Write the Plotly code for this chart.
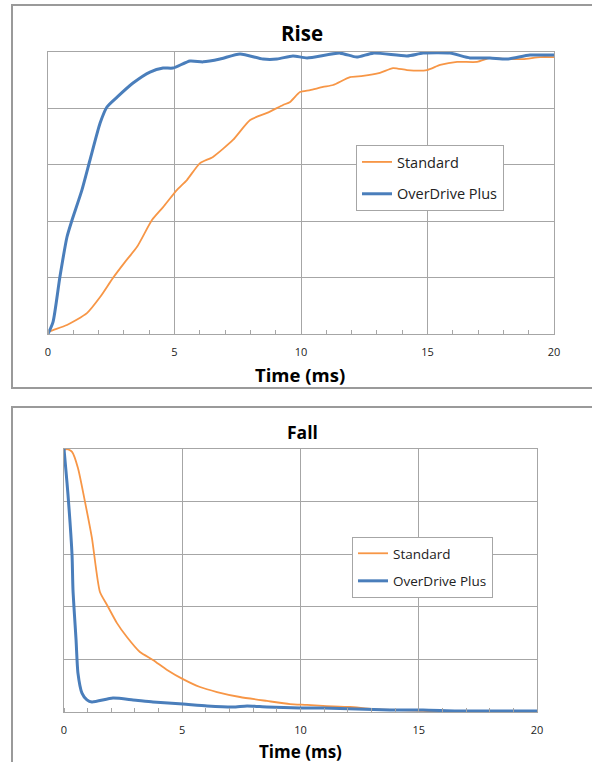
import plotly.graph_objects as go

# ---------------- data ----------------
series_names = ["Standard", "OverDrive Plus"]

rise_std_t = [0, 0.2, 0.75, 1.54, 2.06, 2.57, 3.04, 3.52, 4.11, 4.55, 5.1, 5.49, 6.01, 6.52, 7.31,
              7.99, 8.66, 9.29, 9.57, 9.96, 10.36, 10.87, 11.27, 11.94, 12.45, 13.12, 13.64, 14.19,
              14.98, 15.5, 16.17, 16.96, 17.47, 18.14, 18.77, 19.45, 20.0]
rise_std_v = [0.7, 1.4, 3.2, 7.4, 13.1, 19.9, 25.5, 30.9, 40.4, 45.0, 51.1, 54.6, 60.6, 62.8, 68.8,
              75.9, 78.4, 81.2, 82.3, 85.8, 86.5, 87.6, 88.3, 91.1, 91.5, 92.6, 94.3, 93.6,
              93.6, 95.4, 96.5, 96.5, 97.9, 97.5, 97.5, 98.2, 98.2]

rise_od_t = [0, 0.2, 0.47, 0.75, 0.95, 1.34, 1.66, 2.06, 2.33, 2.73, 3.36, 4.03, 4.55, 4.94, 5.61,
             6.13, 6.8, 7.59, 8.5, 9.05, 9.68, 10.24, 11.54, 12.2, 12.85, 14.19, 14.82, 15.89,
             16.68, 17.47, 18.14, 19.05, 20.0]
rise_od_v = [0, 4.3, 20.2, 34.4, 40.4, 51.0, 61.7, 74.8, 80.5, 84.0, 89.0, 92.9, 94.3, 94.3, 96.8,
             96.5, 97.5, 99.3, 97.5, 97.5, 98.6, 97.9, 99.6, 98.2, 99.6, 98.6, 99.6, 99.6,
             97.9, 97.9, 97.5, 98.9, 98.9]

fall_std_t = [0, 0.13, 0.34, 0.59, 0.89, 1.18, 1.52, 1.82, 2.24, 2.66, 3.21, 3.76, 4.36, 5.03, 5.75,
              6.47, 7.44, 8.58, 9.56, 10.27, 10.95, 12.09, 13.07, 15.18, 16.62, 20.0]
fall_std_v = [99.6, 100, 98.9, 92.8, 79.8, 66.2, 45.6, 40.7, 33.8, 28.5, 22.8, 19.8, 16.0, 12.5, 9.5,
              7.6, 5.7, 4.2, 3.0, 2.7, 2.3, 1.9, 1.1, 0.4, 0.0, 0.0]

fall_od_t = [0, 0.08, 0.17, 0.34, 0.38, 0.51, 0.59, 0.76, 0.97, 1.18, 2.07, 2.92, 3.76, 5.03, 6.05,
             7.15, 7.74, 8.58, 9.98, 10.95, 12.39, 13.78, 15.18, 16.62, 18.01, 20.0]
fall_od_v = [100, 92, 82.5, 59.7, 46.4, 27.4, 14.8, 7.2, 4.6, 3.8, 5.3, 4.6, 3.8, 3.0, 2.3,
             1.9, 2.3, 1.9, 1.5, 1.5, 1.1, 0.8, 0.8, 0.4, 0.4, 0.4]

x_ticks = [0, 5, 10, 15, 20]
panel_titles = ["Rise", "Fall"]
x_title = "Time (ms)"

# ---------------- styling ----------------
W, H = 592, 762
ORANGE = "#F79646"
BLUE = "#4A7EBB"
GRID = "#A6A6A6"
FONT = "Open Sans"

def px_x(p):
    return p / W

def px_y(p):
    return (H - p) / H

fig = go.Figure()

fig.add_trace(go.Scatter(x=rise_std_t, y=rise_std_v, name=series_names[0], mode="lines",
                         line=dict(color=ORANGE, width=1.8, shape="spline", smoothing=0.6),
                         xaxis="x", yaxis="y", legend="legend", legendgroup="a"))
fig.add_trace(go.Scatter(x=rise_od_t, y=rise_od_v, name=series_names[1], mode="lines",
                         line=dict(color=BLUE, width=3, shape="spline", smoothing=0.6),
                         xaxis="x", yaxis="y", legend="legend", legendgroup="b"))
fig.add_trace(go.Scatter(x=fall_std_t, y=fall_std_v, name=series_names[0], mode="lines",
                         line=dict(color=ORANGE, width=1.8, shape="spline", smoothing=0.6),
                         xaxis="x2", yaxis="y2", legend="legend2", legendgroup="c"))
fig.add_trace(go.Scatter(x=fall_od_t, y=fall_od_v, name=series_names[1], mode="lines",
                         line=dict(color=BLUE, width=3, shape="spline", smoothing=0.6),
                         xaxis="x2", yaxis="y2", legend="legend2", legendgroup="d"))

def xaxis(domain, anchor):
    return dict(domain=domain, anchor=anchor, range=[0, 20], tickvals=x_ticks,
                ticktext=[str(v) for v in x_ticks], showgrid=True, gridcolor=GRID, gridwidth=1,
                showline=True, linecolor=GRID, linewidth=1, mirror=True, zeroline=False,
                ticks="", ticklabelstandoff=8, automargin=False, fixedrange=True,
                tickfont=dict(family=FONT, size=11, color="#222222"),
                minor=dict(ticks="inside", dtick=1, ticklen=4, tickcolor=GRID, showgrid=False))

def yaxis(domain, anchor):
    return dict(domain=domain, anchor=anchor, range=[0, 100], dtick=20, showticklabels=False,
                showgrid=True, gridcolor=GRID, gridwidth=1, showline=True, linecolor=GRID,
                linewidth=1, mirror=True, zeroline=False, ticks="", automargin=False,
                fixedrange=True)

legend_common = dict(bgcolor="white", bordercolor=GRID, borderwidth=1,
                     xanchor="left", yanchor="top", traceorder="grouped")

fig.update_layout(
    width=W, height=H, autosize=False, margin=dict(l=0, r=0, t=0, b=0, pad=0, autoexpand=False),
    paper_bgcolor="white", plot_bgcolor="white", showlegend=True,
    xaxis=xaxis([px_x(48), px_x(554)], "y"),
    yaxis=yaxis([px_y(334), px_y(52)], "x"),
    xaxis2=xaxis([px_x(64), px_x(537)], "y2"),
    yaxis2=yaxis([px_y(712), px_y(449)], "x2"),
    legend=dict(x=px_x(356), y=px_y(145), tracegroupgap=10,
                font=dict(family=FONT, size=14.5, color="#222222"), **legend_common),
    legend2=dict(x=px_x(352), y=px_y(537), tracegroupgap=7,
                 font=dict(family=FONT, size=13.5, color="#222222"), **legend_common),
)

# outer frames
fig.add_shape(type="rect", xref="paper", yref="paper",
              x0=px_x(12), x1=px_x(610), y0=px_y(388), y1=px_y(5),
              line=dict(color="#9A9A9A", width=2), fillcolor="rgba(0,0,0,0)", layer="below")
fig.add_shape(type="rect", xref="paper", yref="paper",
              x0=px_x(12), x1=px_x(610), y0=px_y(790), y1=px_y(407),
              line=dict(color="#9A9A9A", width=2), fillcolor="rgba(0,0,0,0)", layer="below")

# titles
for text, cx, cy, size in [(panel_titles[0], 302, 33, 20.5), (panel_titles[1], 302, 432, 17.5),
                           (x_title, 300, 374, 18.5), (x_title, 300, 751, 17)]:
    fig.add_annotation(text=f"<b>{text}</b>", xref="paper", yref="paper",
                       x=px_x(cx), y=px_y(cy), xanchor="center", yanchor="middle",
                       showarrow=False, font=dict(family=FONT, size=size, color="black"))

fig.write_html("out.html", config={"displayModeBar": False},
               post_script="document.body.style.margin='0';document.body.style.padding='0';"
                           "document.body.style.overflow='hidden';")
